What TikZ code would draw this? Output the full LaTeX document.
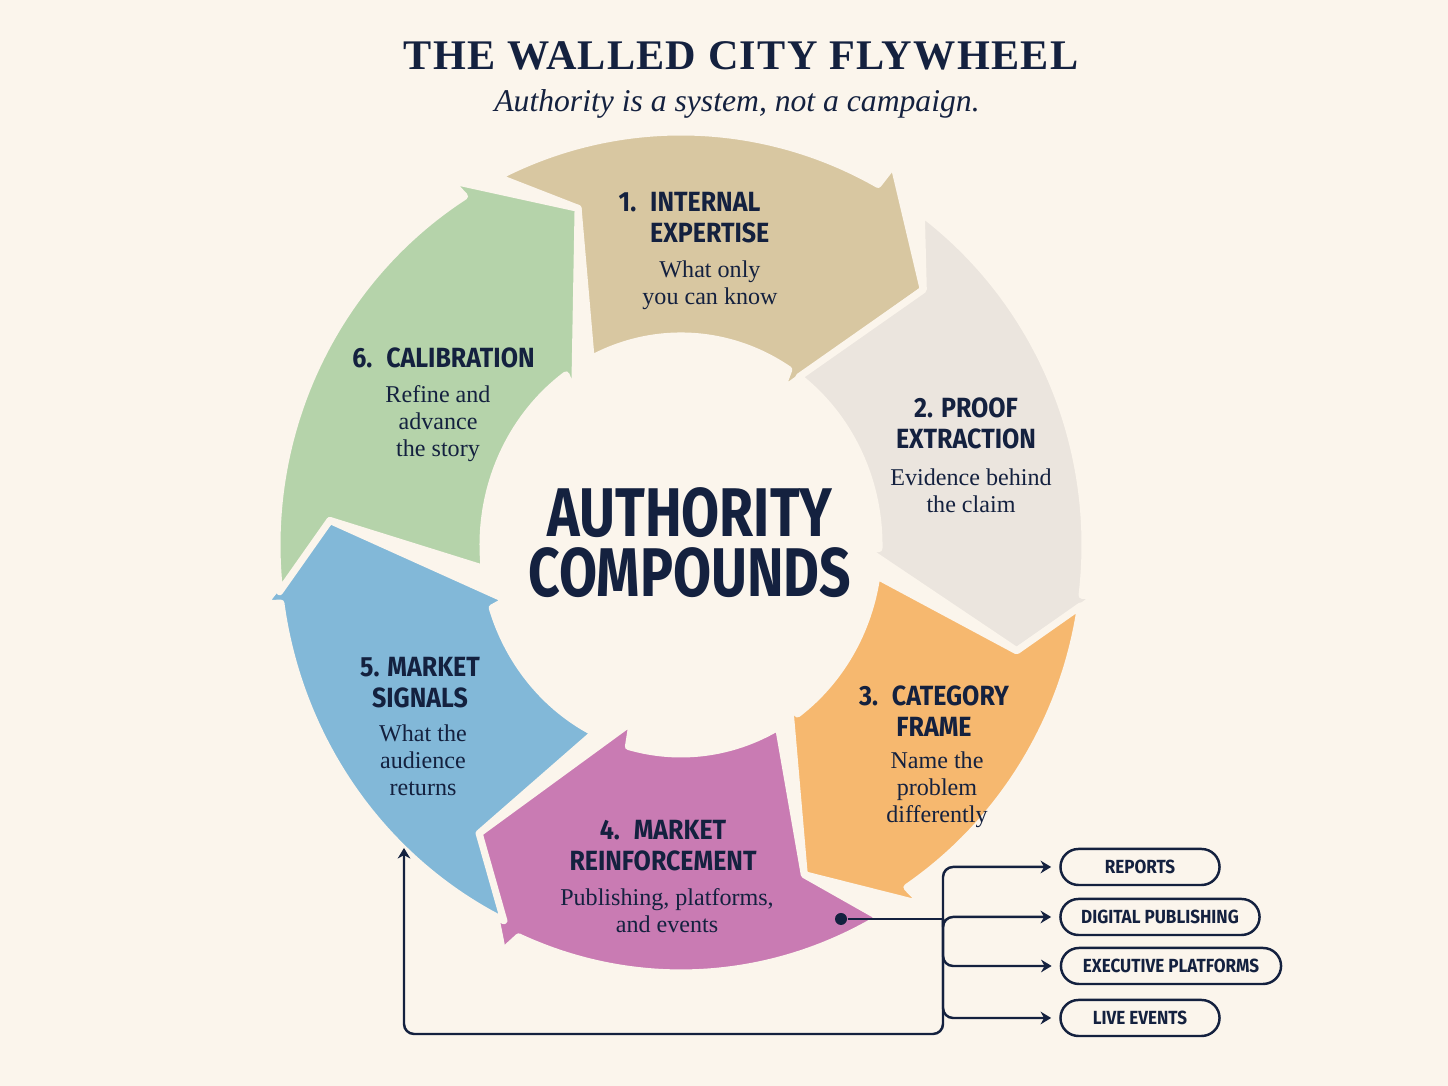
\documentclass[tikz,border=0pt]{standalone}
\usepackage{fontspec}
\setmainfont{Liberation Serif}
\newfontfamily\headfont[FakeStretch=0.9]{Fira Sans}
\newfontfamily\hubfont[FakeStretch=0.8]{Fira Sans}
\newfontfamily\titlefont[LetterSpace=3]{Liberation Serif}
\usetikzlibrary{arrows.meta}

\definecolor{paper}{HTML}{FBF5EC}
\definecolor{ink}{HTML}{14213F}
\definecolor{tanc}{HTML}{D8C7A1}
\definecolor{greyc}{HTML}{EBE5DE}
\definecolor{orangec}{HTML}{F6B86F}
\definecolor{purplec}{HTML}{C97BB3}
\definecolor{bluec}{HTML}{82B8D8}
\definecolor{greenc}{HTML}{B5D3AA}

% ring: outer x radius 404, inner radii 198/209, inner barb 183, tip 352
% #1 colour, #2 tail, #3 outer barb, #4 inner barb, #5 tip, #6 notch, #7 outer y radius, #8 outer barb radius
\newcommand{\wheelpiece}[8]{%
  \filldraw[piece, fill=#1] (#2:404 and #7) arc[start angle=#2, end angle=#3, x radius=404, y radius=#7]
    -- (#3:#8) -- (#5:352) -- (#4:183) -- (#4:198 and 209)
    arc[start angle=#4, end angle=#2, x radius=198, y radius=209] -- (#6:352) -- cycle;}

\tikzset{
  piece/.style={draw=paper, line width=2pt, line join=round},
  stephead/.style={font=\headfont\bfseries\fontsize{7.9}{8.8}\selectfont, text=ink, align=center, inner sep=0pt},
  stepnote/.style={font=\fontsize{6.85}{7.7}\selectfont, text=ink, align=center, inner sep=0pt},
  hubline/.style={anchor=base, text=ink, inner sep=0pt, font=\hubfont\bfseries\fontsize{19.6}{20}\selectfont},
  pill/.style={draw=ink, line width=0.7pt, rounded corners=0.18cm, minimum height=0.36cm, inner sep=0pt,
    font=\headfont\bfseries\fontsize{5.4}{6}\selectfont, text=ink, fill=paper},
  link/.style={draw=ink, line width=0.7pt, rounded corners=0.1cm},
  linkarrow/.style={link, -{Stealth[length=3pt,width=3.6pt]}, shorten >=2.3pt},
}

\begin{document}
\begin{tikzpicture}[x=0.01cm, y=0.01cm]
\fill[paper] (0,0) rectangle (1448,1086);
\useasboundingbox (0,0) rectangle (1448,1086);

% title
\node[anchor=base, text=ink, font=\titlefont\bfseries\fontsize{12}{14}\selectfont] (title) at (741,1016) {THE WALLED CITY FLYWHEEL};
\node[anchor=base, text=ink, font=\itshape\fontsize{9}{10}\selectfont] (subtitle) at (737,974) {Authority is a system, not a campaign.};

% the flywheel
\begin{scope}[shift={(681,541)}]
\wheelpiece{tanc}{117}{60.8}{57}{46.5}{107}{413}{436}
\wheelpiece{greyc}{53.5}{-7}{-1}{-17.5}{46.5}{413}{419}
\wheelpiece{orangec}{-8.5}{-56}{-54}{-69.5}{-17.5}{413}{434}
\wheelpiece{purplec}{-60.5}{-113.7}{-105.4}{-125}{-69.5}{428}{444}
\wheelpiece{bluec}{-116}{-172}{-162.5}{-184}{-125}{418}{421}
\wheelpiece{greenc}{-173.5}{-237.6}{-234.5}{-253}{-184}{413}{432}
\end{scope}

\node[hubline] (hubtop) at (690,549) {AUTHORITY};
\node[hubline] (hubbottom) at (690,489) {COMPOUNDS};

\node[stephead, align=left] (head1) at (694,868) {1.\enspace INTERNAL\\\phantom{1.\enspace}EXPERTISE};
\node[stepnote] (note1) at (710,801) {What only\\you can know};
\node[stephead] (head2) at (966,662.5) {2. PROOF\\EXTRACTION};
\node[stepnote] (note2) at (971,595.5) {Evidence behind\\the claim};
\node[stephead] (head3) at (934,375) {3.\enspace CATEGORY\\FRAME};
\node[stepnote] (note3) at (937,296.5) {Name the\\problem\\differently};
\node[stephead] (head4) at (663,240) {4.\enspace MARKET\\REINFORCEMENT};
\node[stepnote] (note4) at (667,175) {Publishing, platforms,\\and events};
\node[stephead] (head5) at (420,403.5) {5. MARKET\\SIGNALS};
\node[stepnote] (note5) at (423,325.5) {What the\\audience\\returns};
\node[stephead] (head6) at (443.5,728.5) {6.\enspace CALIBRATION};
\node[stepnote] (note6) at (438,662.5) {Refine and\\advance\\the story};

% channels
\node[pill, minimum width=1.59cm] (reports) at (1140,219) {REPORTS};
\node[pill, minimum width=1.99cm] (digital) at (1160,169) {DIGITAL PUBLISHING};
\node[pill, minimum width=2.20cm] (exec) at (1171,120) {EXECUTIVE PLATFORMS};
\node[pill, minimum width=1.59cm] (live) at (1140,68) {LIVE EVENTS};

\node[circle, fill=ink, inner sep=0pt, minimum size=0.12cm] (dot) at (841,167) {};
\coordinate (split) at (943,167);
\coordinate (retcorner) at (404,52);
\coordinate (rettip) at (404,238);

\draw[link] (dot) -- (split);
\draw[linkarrow] (split) |- (reports.west);
\draw[linkarrow] (split) |- (digital.west);
\draw[linkarrow] (split) |- (exec.west);
\draw[linkarrow] (split) |- (live.west);
\draw[linkarrow, shorten >=0pt] (split) |- (retcorner) -- (rettip);
\end{tikzpicture}
\end{document}
